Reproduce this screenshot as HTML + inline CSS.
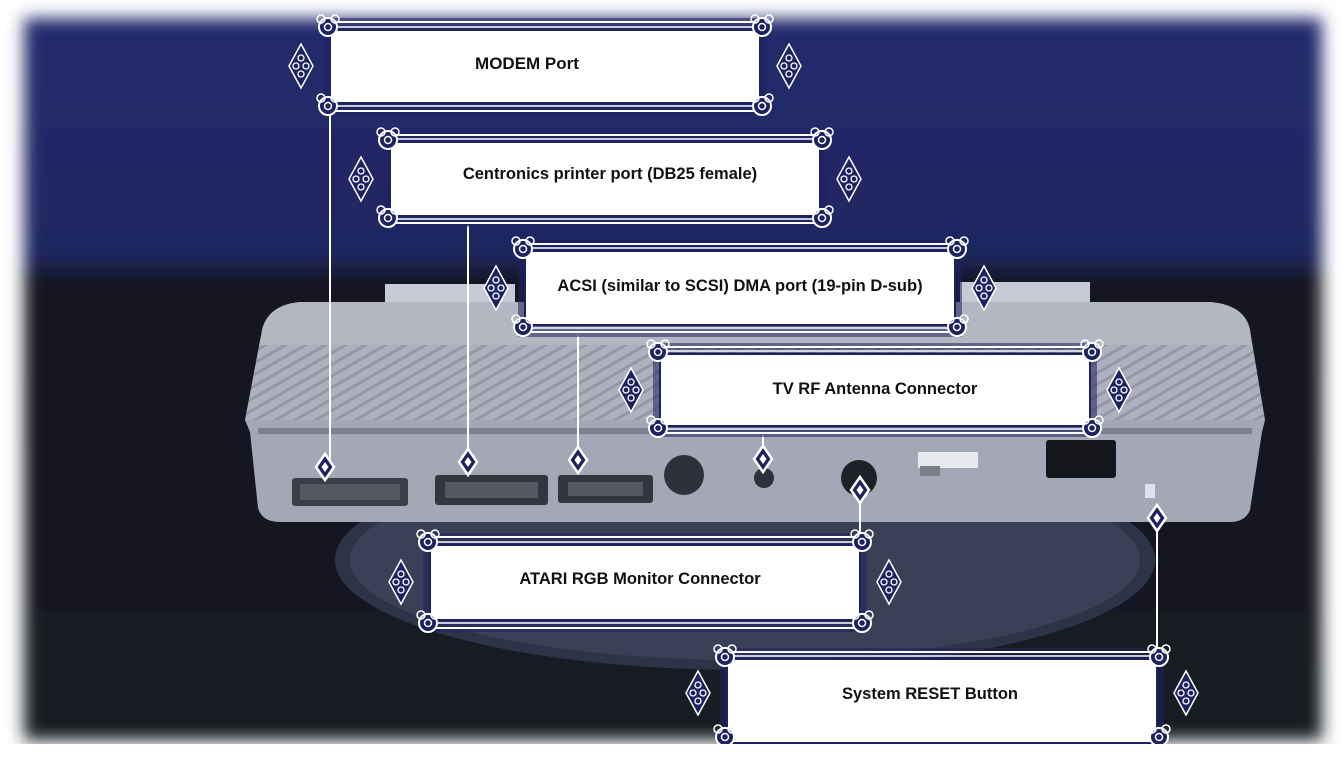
<!DOCTYPE html>
<html><head><meta charset="utf-8"><style>
html,body{margin:0;padding:0;background:#fff;}
svg{display:block;}
text{font-family:"Liberation Sans",sans-serif;font-weight:bold;fill:#111;}
</style></head><body>
<svg width="1344" height="757" viewBox="0 0 1344 757" xmlns="http://www.w3.org/2000/svg">
<defs>
<filter id="blur" x="-5%" y="-5%" width="110%" height="110%"><feGaussianBlur stdDeviation="8"/></filter>
<linearGradient id="bg" x1="0" y1="0" x2="0" y2="1">
<stop offset="0" stop-color="#252b6e"/><stop offset="0.33" stop-color="#1f2660"/><stop offset="0.36" stop-color="#161923"/><stop offset="1" stop-color="#181a22"/>
</linearGradient>
<pattern id="vent" width="10" height="10" patternUnits="userSpaceOnUse" patternTransform="rotate(60)">
<rect width="10" height="10" fill="#aeb0bd"/><rect width="3" height="10" fill="#9597a6"/>
</pattern>
<g id="orn">
<circle cx="0" cy="0" r="9" fill="#1d2260" stroke="#fff" stroke-width="2"/>
<circle cx="0" cy="0" r="3.5" fill="none" stroke="#fff" stroke-width="1.5"/>
<circle cx="-7" cy="-8" r="4" fill="none" stroke="#fff" stroke-width="1.5"/>
<circle cx="7" cy="-8" r="4" fill="none" stroke="#fff" stroke-width="1.5"/>
</g>
<g id="side">
<path d="M0 -22 L12 0 L0 22 L-12 0 Z" fill="#1d2260" stroke="#fff" stroke-width="1.5"/>
<circle cx="0" cy="-8" r="3" fill="none" stroke="#fff" stroke-width="1.3"/>
<circle cx="0" cy="8" r="3" fill="none" stroke="#fff" stroke-width="1.3"/>
<circle cx="-5" cy="0" r="3" fill="none" stroke="#fff" stroke-width="1.3"/>
<circle cx="5" cy="0" r="3" fill="none" stroke="#fff" stroke-width="1.3"/>
</g>
<g id="dia">
<path d="M0 -13 L9 0 L0 13 L-9 0 Z" fill="#1d2260" stroke="#fff" stroke-width="2.5"/>
<path d="M0 -5 L3.5 0 L0 5 L-3.5 0 Z" fill="#fff"/>
</g>
</defs>
<rect x="24" y="18" width="1298" height="722" fill="url(#bg)" filter="url(#blur)"/>
<ellipse cx="745" cy="560" rx="410" ry="110" fill="#2e3448"/>
<ellipse cx="745" cy="560" rx="395" ry="100" fill="#3a4055"/>
<rect x="385" y="284" width="130" height="18" fill="#c7c9d4"/>
<rect x="960" y="282" width="130" height="20" fill="#c7c9d4"/>
<path d="M245 420 L262 330 Q268 305 300 302 L1210 302 Q1245 305 1250 330 L1265 420 Z" fill="url(#vent)"/>
<path d="M262 330 Q268 305 300 302 L1210 302 Q1245 305 1250 330 L1252 345 L260 345 Z" fill="#b4b6c2"/>
<path d="M245 420 L1265 420 L1262 432 L1250 510 Q1245 522 1230 522 L280 522 Q262 522 258 508 L250 432 Z" fill="#a4a7b5"/>
<rect x="258" y="428" width="994" height="6" fill="#7d8091"/>
<rect x="292" y="478" width="116" height="28" rx="3" fill="#3b3d47"/>
<rect x="300" y="484" width="100" height="16" fill="#55585f"/>
<rect x="435" y="475" width="113" height="30" rx="3" fill="#34363f"/>
<rect x="445" y="482" width="93" height="16" fill="#55585f"/>
<rect x="558" y="475" width="95" height="28" rx="3" fill="#34363f"/>
<rect x="568" y="482" width="75" height="14" fill="#55585f"/>
<circle cx="684" cy="475" r="20" fill="#2f313a"/>
<circle cx="764" cy="478" r="10" fill="#2f313a"/>
<circle cx="859" cy="478" r="18" fill="#1e2027"/>
<rect x="918" y="452" width="60" height="16" fill="#e8e9ee"/>
<rect x="920" y="466" width="20" height="10" fill="#7b7d88"/>
<rect x="1046" y="440" width="70" height="38" rx="3" fill="#15161b"/>
<rect x="1145" y="484" width="10" height="14" fill="#dfe2ea"/>
<g stroke="#fff" stroke-width="2">
<line x1="330" y1="110" x2="330" y2="465"/>
<line x1="468" y1="225" x2="468" y2="462"/>
<line x1="578" y1="335" x2="578" y2="460"/>
<line x1="763" y1="435" x2="763" y2="460"/>
<line x1="860" y1="490" x2="860" y2="545"/>
<line x1="1157" y1="518" x2="1157" y2="650"/>
</g>
<use href="#dia" x="325" y="467"/>
<use href="#dia" x="468" y="462"/>
<use href="#dia" x="578" y="460"/>
<use href="#dia" x="763" y="459"/>
<use href="#dia" x="860" y="490"/>
<use href="#dia" x="1157" y="518"/>
<g transform="translate(315,15)">
<rect x="8" y="3" width="444" height="97" fill="#1d2260" fill-opacity="0.55"/>
<rect x="15" y="15" width="430" height="73" rx="4" fill="#fff" stroke="#1d2260" stroke-width="2"/>
<line x1="15" y1="7" x2="445" y2="7" stroke="#fff" stroke-width="2"/><line x1="15" y1="12" x2="445" y2="12" stroke="#fff" stroke-width="1.5"/>
<line x1="15" y1="91" x2="445" y2="91" stroke="#fff" stroke-width="1.5"/><line x1="15" y1="96" x2="445" y2="96" stroke="#fff" stroke-width="2"/>
<use href="#orn" x="13" y="12"/><use href="#orn" x="447" y="12"/><use href="#orn" x="13" y="91"/><use href="#orn" x="447" y="91"/>
<use href="#side" x="-14" y="51"/><use href="#side" x="474" y="51"/>
<text x="212" y="54" font-size="17" text-anchor="middle">MODEM Port</text>
</g>
<g transform="translate(375,128)">
<rect x="8" y="3" width="444" height="96" fill="#1d2260" fill-opacity="0.55"/>
<rect x="15" y="14" width="430" height="74" rx="4" fill="#fff" stroke="#1d2260" stroke-width="2"/>
<line x1="15" y1="7" x2="445" y2="7" stroke="#fff" stroke-width="2"/><line x1="15" y1="11" x2="445" y2="11" stroke="#fff" stroke-width="1.5"/>
<line x1="15" y1="91" x2="445" y2="91" stroke="#fff" stroke-width="1.5"/><line x1="15" y1="95" x2="445" y2="95" stroke="#fff" stroke-width="2"/>
<use href="#orn" x="13" y="12"/><use href="#orn" x="447" y="12"/><use href="#orn" x="13" y="90"/><use href="#orn" x="447" y="90"/>
<use href="#side" x="-14" y="51"/><use href="#side" x="474" y="51"/>
<text x="235" y="51" font-size="16.5" text-anchor="middle">Centronics printer port (DB25 female)</text>
</g>
<g transform="translate(510,237)">
<rect x="8" y="3" width="444" height="97" fill="#1d2260" fill-opacity="0.55"/>
<rect x="15" y="14" width="430" height="74" rx="4" fill="#fff" stroke="#1d2260" stroke-width="2"/>
<line x1="15" y1="7" x2="445" y2="7" stroke="#fff" stroke-width="2"/><line x1="15" y1="11" x2="445" y2="11" stroke="#fff" stroke-width="1.5"/>
<line x1="15" y1="91" x2="445" y2="91" stroke="#fff" stroke-width="1.5"/><line x1="15" y1="95" x2="445" y2="95" stroke="#fff" stroke-width="2"/>
<use href="#orn" x="13" y="12"/><use href="#orn" x="447" y="12"/><use href="#orn" x="13" y="90"/><use href="#orn" x="447" y="90"/>
<use href="#side" x="-14" y="51"/><use href="#side" x="474" y="51"/>
<text x="230" y="54" font-size="16.5" text-anchor="middle">ACSI (similar to SCSI) DMA port (19-pin D-sub)</text>
</g>
<g transform="translate(645,340)">
<rect x="8" y="3" width="444" height="94" fill="#1d2260" fill-opacity="0.55"/>
<rect x="15" y="14" width="430" height="72" rx="4" fill="#fff" stroke="#1d2260" stroke-width="2"/>
<line x1="15" y1="7" x2="445" y2="7" stroke="#fff" stroke-width="2"/><line x1="15" y1="11" x2="445" y2="11" stroke="#fff" stroke-width="1.5"/>
<line x1="15" y1="89" x2="445" y2="89" stroke="#fff" stroke-width="1.5"/><line x1="15" y1="93" x2="445" y2="93" stroke="#fff" stroke-width="2"/>
<use href="#orn" x="13" y="12"/><use href="#orn" x="447" y="12"/><use href="#orn" x="13" y="88"/><use href="#orn" x="447" y="88"/>
<use href="#side" x="-14" y="50"/><use href="#side" x="474" y="50"/>
<text x="230" y="54" font-size="16.5" text-anchor="middle">TV RF Antenna Connector</text>
</g>
<g transform="translate(415,530)">
<rect x="8" y="3" width="444" height="99" fill="#1d2260" fill-opacity="0.55"/>
<rect x="15" y="15" width="430" height="75" rx="4" fill="#fff" stroke="#1d2260" stroke-width="2"/>
<line x1="15" y1="7" x2="445" y2="7" stroke="#fff" stroke-width="2"/><line x1="15" y1="12" x2="445" y2="12" stroke="#fff" stroke-width="1.5"/>
<line x1="15" y1="93" x2="445" y2="93" stroke="#fff" stroke-width="1.5"/><line x1="15" y1="98" x2="445" y2="98" stroke="#fff" stroke-width="2"/>
<use href="#orn" x="13" y="12"/><use href="#orn" x="447" y="12"/><use href="#orn" x="13" y="93"/><use href="#orn" x="447" y="93"/>
<use href="#side" x="-14" y="52"/><use href="#side" x="474" y="52"/>
<text x="225" y="54" font-size="16.5" text-anchor="middle">ATARI RGB Monitor Connector</text>
</g>
<g transform="translate(712,645)">
<rect x="8" y="3" width="444" height="97" fill="#1d2260" fill-opacity="0.55"/>
<rect x="15" y="14" width="430" height="84" rx="4" fill="#fff" stroke="#1d2260" stroke-width="2"/>
<line x1="15" y1="7" x2="445" y2="7" stroke="#fff" stroke-width="2"/><line x1="15" y1="11" x2="445" y2="11" stroke="#fff" stroke-width="1.5"/>
<use href="#orn" x="13" y="12"/><use href="#orn" x="447" y="12"/><use href="#orn" x="13" y="92"/><use href="#orn" x="447" y="92"/>
<use href="#side" x="-14" y="48"/><use href="#side" x="474" y="48"/>
<text x="218" y="54" font-size="16.5" text-anchor="middle">System RESET Button</text>
</g>
<rect x="0" y="744" width="1344" height="13" fill="#fff"/>
</svg>
</body></html>
